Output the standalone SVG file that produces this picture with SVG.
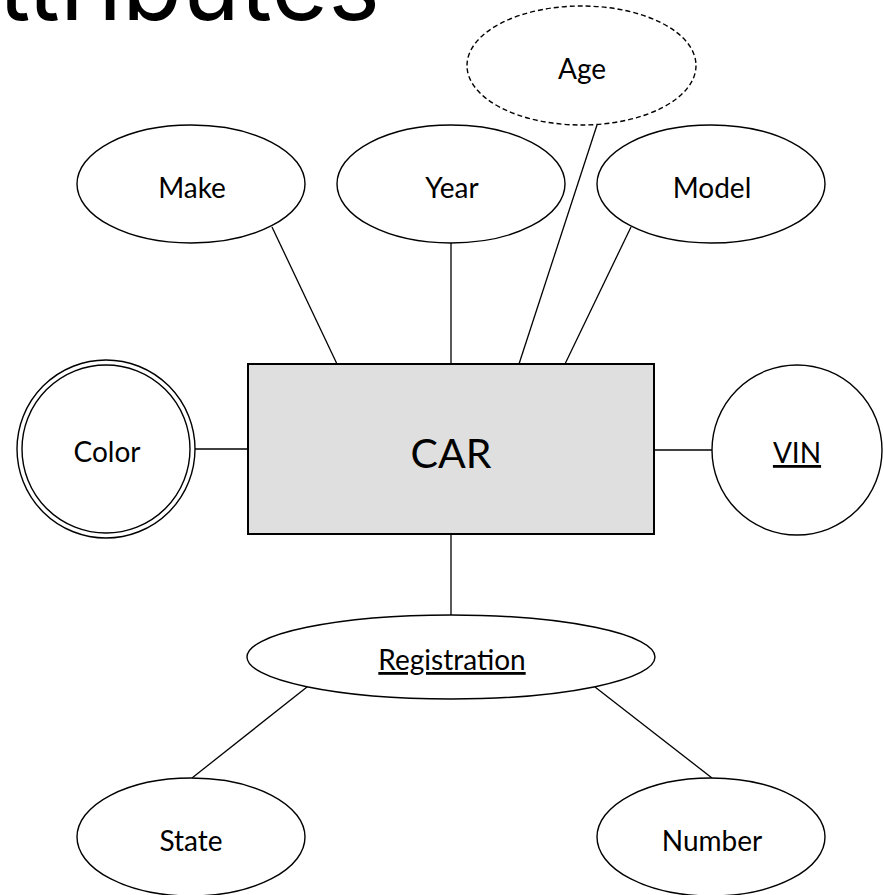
<svg xmlns="http://www.w3.org/2000/svg" width="884" height="895" viewBox="0 0 884 895">
  <style>
    .attr { fill: #ffffff; stroke: #000000; stroke-width: 1.4; }
    .derived { stroke-dasharray: 5 3; }
    .entity { fill: #dfdfdf; stroke: #000000; stroke-width: 2; }
    .label { font-family: "Lato", "Liberation Sans", sans-serif; font-size: 28px; fill: #000000; text-anchor: middle; }
    .key { text-decoration: underline; }
    .title { font-family: "Inter", "Liberation Sans", sans-serif; font-size: 98px; fill: #000000; text-anchor: end; }
    .conn line { stroke: #000000; stroke-width: 1.3; }
  </style>

  <text class="title" x="380" y="20">Attributes</text>

  <!-- connectors -->
  <g id="connectors" class="conn">
    <line x1="272" y1="227" x2="337" y2="364"/>
    <line x1="451" y1="243" x2="451" y2="364"/>
    <line x1="597" y1="125" x2="519" y2="364"/>
    <line x1="631" y1="227" x2="565" y2="364"/>
    <line x1="195" y1="449" x2="248" y2="449"/>
    <line x1="654" y1="450" x2="712" y2="450"/>
    <line x1="451" y1="534" x2="451" y2="615"/>
    <line x1="307" y1="687" x2="192" y2="778"/>
    <line x1="595" y1="687" x2="712" y2="778"/>
  </g>

  <!-- entity -->
  <g id="car">
    <rect class="entity" x="248" y="364" width="406" height="170"/>
    <text class="label" x="451" y="468" style="font-size:41px">CAR</text>
  </g>

  <g id="make">
    <ellipse class="attr" cx="191" cy="184" rx="114" ry="59"/>
    <text class="label" x="192" y="198">Make</text>
  </g>

  <g id="year">
    <ellipse class="attr" cx="451" cy="184" rx="114" ry="59"/>
    <text class="label" x="452" y="198">Year</text>
  </g>

  <g id="model">
    <ellipse class="attr" cx="711" cy="184" rx="114" ry="59"/>
    <text class="label" x="712" y="198">Model</text>
  </g>

  <g id="age">
    <ellipse class="attr derived" cx="581.5" cy="65.5" rx="114.5" ry="59.5"/>
    <text class="label" x="582" y="79">Age</text>
  </g>

  <!-- multivalued attribute: double outline -->
  <g id="color">
    <circle class="attr" cx="106" cy="449" r="89"/>
    <circle class="attr" cx="106" cy="449" r="84"/>
    <text class="label" x="107" y="462">Color</text>
  </g>

  <g id="vin">
    <circle class="attr" cx="797" cy="450" r="85"/>
    <text class="label key" x="797" y="463">VIN</text>
  </g>

  <g id="registration">
    <ellipse class="attr" cx="451" cy="657" rx="204" ry="42"/>
    <text class="label key" x="452" y="670">Registration</text>
  </g>

  <g id="state">
    <ellipse class="attr" cx="191" cy="837" rx="114" ry="59"/>
    <text class="label" x="191" y="851">State</text>
  </g>

  <g id="number">
    <ellipse class="attr" cx="711" cy="837" rx="114" ry="59"/>
    <text class="label" x="712" y="851">Number</text>
  </g>
</svg>
